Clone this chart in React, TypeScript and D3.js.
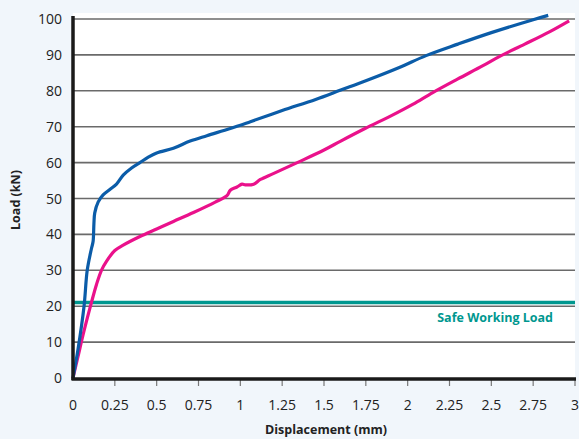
import React from "react";
import * as d3 from "d3";

const W = 579;
const H = 439;

const yTicks = [0, 10, 20, 30, 40, 50, 60, 70, 80, 90, 100];
const xTicks = [0, 0.25, 0.5, 0.75, 1, 1.25, 1.5, 1.75, 2, 2.25, 2.5, 2.75, 3];
const xTickLabels = ["0", "0.25", "0.5", "0.75", "1", "1.25", "1.5", "1.75", "2", "2.25", "2.5", "2.75", "3"];

const blueX = [0, 0.03, 0.066, 0.085, 0.11, 0.12, 0.125, 0.13, 0.15, 0.18, 0.22, 0.26, 0.3, 0.35, 0.4, 0.45, 0.5, 0.6, 0.7, 0.8, 0.94, 1.06, 1.25, 1.45, 1.6, 1.75, 1.95, 2.11, 2.3, 2.5, 2.75, 2.84];
const blueY = [0, 8, 20, 30, 36, 38, 43, 46, 49, 51, 52.5, 54, 56.5, 58.5, 60, 61.5, 62.7, 64, 66, 67.5, 69.5, 71.4, 74.5, 77.6, 80.2, 82.8, 86.5, 89.8, 93, 96.2, 99.8, 101];

const pinkX = [0, 0.03, 0.06, 0.09, 0.11, 0.14, 0.17, 0.2, 0.25, 0.3, 0.4, 0.5, 0.6, 0.72, 0.85, 0.92, 0.94, 0.98, 1.01, 1.03, 1.08, 1.12, 1.2, 1.34, 1.5, 1.6, 1.745, 1.9, 2.03, 2.15, 2.3, 2.45, 2.55, 2.7, 2.85, 2.965];
const pinkY = [0, 6, 12, 17.5, 21, 26, 30, 32.5, 35.5, 37, 39.4, 41.5, 43.6, 46.1, 49, 50.8, 52.3, 53.2, 54, 53.8, 54, 55.3, 57, 60, 63.5, 66, 69.5, 73, 76.2, 79.5, 83.3, 87, 89.6, 93, 96.5, 99.5];

const safeLoad = 21;
const safeLabel = "Safe Working Load";
const xTitle = "Displacement (mm)";
const yTitle = "Load (kN)";

const left = 73;
const right = 575;
const top = 13;
const bottom = 378;

export default function App() {
  const x = d3.scaleLinear().domain([0, 3]).range([left, right]);
  const y = d3.scaleLinear().domain([0, 100]).range([bottom, 19]);

  const line = d3
    .line<[number, number]>()
    .x((d) => x(d[0]))
    .y((d) => y(d[1]))
    .curve(d3.curveCatmullRom.alpha(0.5));

  const blue = blueX.map((v, i) => [v, blueY[i]] as [number, number]);
  const pink = pinkX.map((v, i) => [v, pinkY[i]] as [number, number]);

  const font = "'Open Sans', 'Noto Sans', sans-serif";

  return (
    <div style={{ position: "absolute", left: 0, top: 0 }}>
      <svg width={W} height={H} style={{ display: "block" }}>
        <rect x={0} y={0} width={W} height={H} fill="#f1f6fb" />
        <rect x={left} y={top} width={right - left} height={bottom - top} fill="#ffffff" />
        {yTicks.slice(1).map((t) => (
          <line key={t} x1={left} x2={right} y1={y(t)} y2={y(t)} stroke="#6a6a6a" strokeWidth={1.6} />
        ))}
        <line x1={left} x2={right} y1={y(safeLoad)} y2={y(safeLoad)} stroke="#00978f" strokeWidth={3.5} />
        <text
          x={553}
          y={322}
          textAnchor="end"
          fill="#00978f"
          fontFamily={font}
          fontWeight="bold"
          fontSize={12.5}
        >
          {safeLabel}
        </text>
        <path d={line(pink) || ""} fill="none" stroke="#ea118b" strokeWidth={3.2} strokeLinejoin="round" />
        <path d={line(blue) || ""} fill="none" stroke="#0b5ca8" strokeWidth={3.2} strokeLinejoin="round" />
        {xTicks.slice(1).map((t) => (
          <line key={t} x1={x(t)} x2={x(t)} y1={bottom} y2={bottom + 8} stroke="#777" strokeWidth={1.2} />
        ))}
        <line x1={left} x2={left} y1={16} y2={bottom + 2} stroke="#1a1a1a" strokeWidth={3.5} />
        <line x1={left - 1.5} x2={right + 1} y1={bottom + 1} y2={bottom + 1} stroke="#1a1a1a" strokeWidth={3.5} />
        {yTicks.map((t) => (
          <text
            key={t}
            x={62}
            y={y(t) + 5}
            textAnchor="end"
            fill="#222"
            fontFamily={font}
            fontSize={14}
          >
            {t}
          </text>
        ))}
        {xTicks.map((t, i) => (
          <text
            key={t}
            x={x(t)}
            y={410}
            textAnchor="middle"
            fill="#222"
            fontFamily={font}
            fontSize={14}
          >
            {xTickLabels[i]}
          </text>
        ))}
        <text
          x={326}
          y={434}
          textAnchor="middle"
          fill="#222"
          fontFamily={font}
          fontWeight="bold"
          fontSize={12.5}
        >
          {xTitle}
        </text>
        <text
          transform={`translate(20, 200) rotate(-90)`}
          textAnchor="middle"
          fill="#222"
          fontFamily={font}
          fontWeight="bold"
          fontSize={12.5}
        >
          {yTitle}
        </text>
      </svg>
    </div>
  );
}
